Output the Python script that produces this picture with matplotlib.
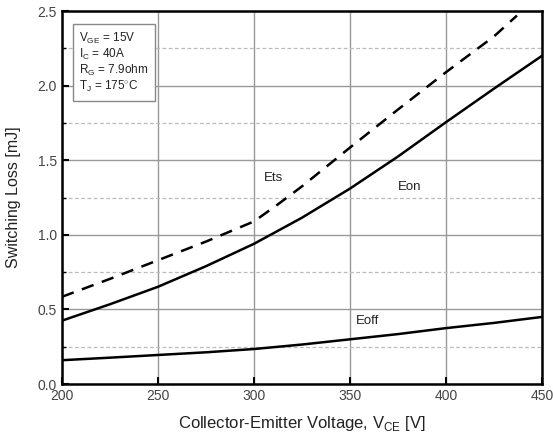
import numpy as np
import matplotlib.pyplot as plt
from matplotlib.ticker import MultipleLocator

plt.rcParams['font.family'] = ['Liberation Sans', 'DejaVu Sans']
plt.rcParams['mathtext.fontset'] = 'custom'
plt.rcParams['mathtext.rm'] = 'Liberation Sans'

# Collector-emitter voltage [V]
vce = [200, 225, 250, 275, 300, 325, 350, 375, 400, 425, 450]
# Turn-on, turn-off loss [mJ]
eon = [0.425, 0.535, 0.652, 0.79, 0.94, 1.115, 1.31, 1.525, 1.755, 1.98, 2.20]
eoff = [0.16, 0.177, 0.195, 0.213, 0.235, 0.265, 0.30, 0.335, 0.375, 0.41, 0.45]
# Total loss
vce_ts = [200, 225, 250, 275, 300, 312, 325, 350, 375, 400, 425, 437]
ets = [0.585, 0.705, 0.83, 0.955, 1.09, 1.20, 1.325, 1.585, 1.84, 2.09, 2.33, 2.47]

fig = plt.figure(figsize=(5.53, 4.43), dpi=100)
ax = fig.add_axes([0.112, 0.133, 0.868, 0.842])

ax.plot(vce, eon, color='black', lw=1.8)
ax.plot(vce, eoff, color='black', lw=1.8)
ax.plot(vce_ts, ets, color='black', lw=1.8, dashes=(5, 3.5))

ax.set_xlim(200, 450)
ax.set_ylim(0, 2.5)
ax.xaxis.set_major_locator(MultipleLocator(50))
ax.yaxis.set_major_locator(MultipleLocator(0.5))
ax.yaxis.set_minor_locator(MultipleLocator(0.25))

ax.grid(True, which='major', color='#999999', lw=1.0)
ax.grid(True, which='minor', axis='y', color='#bbbbbb', lw=0.9, ls=(0, (3, 2)))

for s in ax.spines.values():
    s.set_linewidth(1.8)
ax.tick_params(which='major', direction='in', length=5, width=1.5,
               labelsize=10, labelcolor='#444444', top=False, right=False)
ax.tick_params(which='minor', direction='in', length=3, width=1.0, right=False)

ax.set_xlabel('Collector-Emitter Voltage, V$_{\\rm CE}$ [V]', fontsize=12,
              color='#222222', labelpad=8)
ax.set_ylabel('Switching Loss [mJ]', fontsize=11.5, color='#222222', labelpad=12)

ax.text(310, 1.38, 'Ets', fontsize=9.5, color='#222222', ha='center', va='center')
ax.text(381, 1.32, 'Eon', fontsize=9.5, color='#222222', ha='center', va='center')
ax.text(359, 0.42, 'Eoff', fontsize=9.5, color='#222222', ha='center', va='center')

ax.text(209, 2.37,
        'V$_{\\rm GE}$ = 15V\nI$_{\\rm C}$ = 40A\nR$_{\\rm G}$ = 7.9ohm\nT$_{\\rm J}$ = 175$^{\\circ}$C',
        fontsize=8.5, color='#222222', va='top', ha='left', linespacing=1.1,
        bbox=dict(boxstyle='square,pad=0.55', fc='white', ec='#888888', lw=1.0))

fig.savefig('out.png', dpi=100)
